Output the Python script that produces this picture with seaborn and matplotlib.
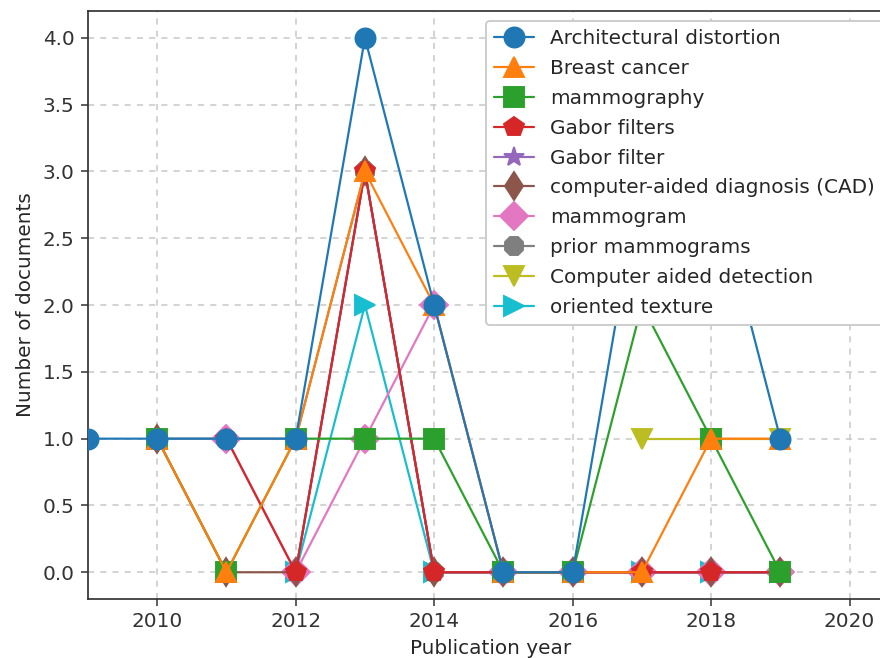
import numpy as np
import pandas as pd
import matplotlib
matplotlib.use("Agg")
import matplotlib.pyplot as plt
import seaborn as sns

nan = np.nan
years = [2009, 2010, 2011, 2012, 2013, 2014, 2015, 2016, 2017, 2018, 2019]

labels = [
    "Architectural distortion",
    "Breast cancer",
    "mammography",
    "Gabor filters",
    "Gabor filter",
    "computer-aided diagnosis (CAD)",
    "mammogram",
    "prior mammograms",
    "Computer aided detection",
    "oriented texture",
]

architectural_distortion = [1, 1, 1, 1, 4, 2, 0, 0, 3, 3, 1]
breast_cancer = [nan, 1, 0, 1, 3, 2, 0, 0, 0, 1, 1]
mammography = [nan, 1, 0, 1, 1, 1, 0, 0, 2, 1, 0]
gabor_filters = [nan, nan, 1, 0, 3, 0, 0, 0, 0, 0, 0]
gabor_filter = [nan, nan, nan, 0, 3, 0, 0, 0, 0, 0, 0]
cad = [nan, 1, 0, 0, 3, 0, 0, 0, 0, 0, 0]
mammogram = [nan, nan, 1, 0, 1, 2, 0, 0, 0, 0, 0]
prior_mammograms = [nan, 1, 1, 1, 3, 0, 0, 0, 0, 0, 0]
computer_aided_detection = [nan, nan, nan, nan, nan, nan, nan, nan, 1, 1, 1]
oriented_texture = [nan, nan, nan, 0, 2, 0, 0, 0, 0, 0, 0]

series = [architectural_distortion, breast_cancer, mammography, gabor_filters,
          gabor_filter, cad, mammogram, prior_mammograms,
          computer_aided_detection, oriented_texture]

markers = ["o", "^", "s", "p", "*", "d", "D", "8", "v", ">"]
colors = sns.color_palette("tab10", 10)

sns.set_style("ticks", {"axes.edgecolor": "0.2", "xtick.color": "0.2", "ytick.color": "0.2",
                        "text.color": "0.15", "axes.labelcolor": "0.15"})
plt.rcParams["font.family"] = ["DejaVu Sans"]
plt.rcParams["font.size"] = 10.5

fig = plt.figure(figsize=(6.4, 4.7855), dpi=137.5)
ax = fig.add_axes([0.1, 0.0897, 0.915, 0.8933])

n = len(series)
for i, (lab, vals, m, c) in enumerate(zip(labels, series, markers, colors)):
    df = pd.DataFrame({"year": years, "count": vals}).dropna()
    sns.lineplot(data=df, x="year", y="count", marker=m, color=c, label=lab,
                 markersize=10.5, markeredgecolor=c, markeredgewidth=1,
                 linewidth=1.15, zorder=10 + (n - i), ax=ax, legend=False)

handles = ax.get_lines()
leg = ax.legend(handles=handles[:n], labels=labels, loc="upper right",
                fontsize=10.5, framealpha=1.0, labelspacing=0.54)
leg.set_zorder(100)

ax.set_xlim(2009, 2020.63)
ax.set_ylim(-0.2, 4.2)
ax.set_xticks([2010, 2012, 2014, 2016, 2018, 2020])
ax.set_yticks(np.arange(0, 4.01, 0.5))
ax.set_xlabel("Publication year")
ax.set_ylabel("Number of documents")
ax.grid(True, linestyle=(0, (4, 4)), color="#c8c8c8", linewidth=0.8)
ax.tick_params(direction="out", length=3.5, width=0.8)
for s in ax.spines.values():
    s.set_linewidth(0.9)

fig.savefig("out.png", dpi=137.5)
